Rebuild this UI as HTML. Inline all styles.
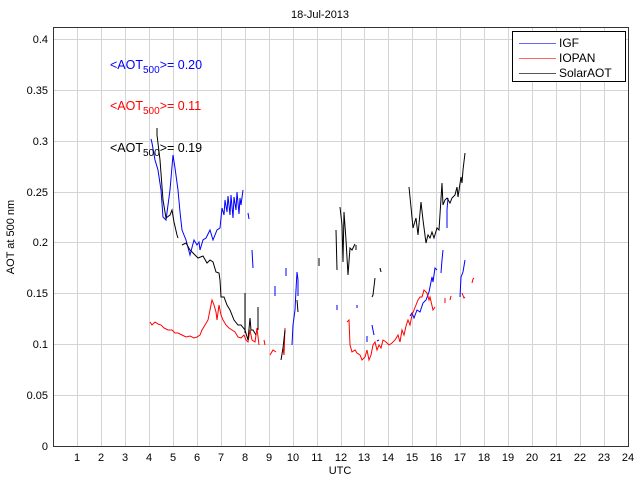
<!DOCTYPE html>
<html><head><style>body{margin:0;background:#fff}svg{display:block;font-family:"Liberation Sans",Arial,sans-serif}</style></head><body>
<svg width="640" height="480" viewBox="0 0 640 480" xmlns="http://www.w3.org/2000/svg">
<rect x="0" y="0" width="640" height="480" fill="#fff"/>
<g stroke="#d4d4d4" stroke-width="1">
<line x1="77.5" y1="27" x2="77.5" y2="446"/><line x1="101.5" y1="27" x2="101.5" y2="446"/><line x1="125.5" y1="27" x2="125.5" y2="446"/><line x1="149.5" y1="27" x2="149.5" y2="446"/><line x1="173.5" y1="27" x2="173.5" y2="446"/><line x1="197.5" y1="27" x2="197.5" y2="446"/><line x1="221.5" y1="27" x2="221.5" y2="446"/><line x1="245.5" y1="27" x2="245.5" y2="446"/><line x1="269.5" y1="27" x2="269.5" y2="446"/><line x1="293.5" y1="27" x2="293.5" y2="446"/><line x1="317.5" y1="27" x2="317.5" y2="446"/><line x1="341.5" y1="27" x2="341.5" y2="446"/><line x1="364.5" y1="27" x2="364.5" y2="446"/><line x1="388.5" y1="27" x2="388.5" y2="446"/><line x1="412.5" y1="27" x2="412.5" y2="446"/><line x1="436.5" y1="27" x2="436.5" y2="446"/><line x1="460.5" y1="27" x2="460.5" y2="446"/><line x1="484.5" y1="27" x2="484.5" y2="446"/><line x1="508.5" y1="27" x2="508.5" y2="446"/><line x1="532.5" y1="27" x2="532.5" y2="446"/><line x1="556.5" y1="27" x2="556.5" y2="446"/><line x1="580.5" y1="27" x2="580.5" y2="446"/><line x1="604.5" y1="27" x2="604.5" y2="446"/>
<line x1="53" y1="395.5" x2="628" y2="395.5"/><line x1="53" y1="344.5" x2="628" y2="344.5"/><line x1="53" y1="293.5" x2="628" y2="293.5"/><line x1="53" y1="242.5" x2="628" y2="242.5"/><line x1="53" y1="192.5" x2="628" y2="192.5"/><line x1="53" y1="141.5" x2="628" y2="141.5"/><line x1="53" y1="90.5" x2="628" y2="90.5"/><line x1="53" y1="39.5" x2="628" y2="39.5"/>
</g>
<rect x="53.5" y="27.5" width="575" height="419" fill="none" stroke="#333" stroke-width="1"/>
<g fill="none" stroke-width="1">
<g stroke="#0000ff">
<polyline points="151,139 152,143 155,160 158,170 161,190 163,217 166,220 168,205 170,190 173,155 175,168 178,190 180,212 182,230 186,240 190,255 194,240 197,245 199,242 200,250 203,240 206,238 210,230 213,240 217,230 220,228 222,208 224,215 225,200 227,212 228,196 230,215 231,195 233,218 234,197 236,210 237,192 239,214 240,198 241,205 243,190"/>
<polyline points="248,213 249,219"/><polyline points="252,250 253,268"/>
<polyline points="275,286 275,296"/><polyline points="286,268 286,276"/>
<polyline points="292,345 293,325 295,310 296,290 297,272 298,280 298,296"/>
<polyline points="337,305 337,310"/><polyline points="357,305 357,308"/>
<polyline points="367,336 367,342"/><polyline points="372,325 374,335"/>
<polyline points="377,341 379,340"/>
<polyline points="410,316 412,313 414,318 417,310 420,312 423,303 426,300 429,292 432,277 433,282 435,268 437,270"/>
<polyline points="441,273 442,260 443,250"/>
<polyline points="447,228 447,210 448,198"/>
<polyline points="460,297 461,277 463,272 465,260"/>
</g>
<g stroke="#ff0000">
<polyline points="150,322 152,325 155,322 158,324 161,325 164,328 168,330 172,330 175,333 178,333 182,335 186,337 190,336 194,338 197,337 200,335 202,330 205,325 208,320 210,310 212,300 214,305 216,312 217,320 219,305 221,315 223,320 226,325 229,328 232,330 235,332 238,337 241,338 244,335 246,340 248,342 250,330 252,340 255,342 257,328 259,345"/>
<polyline points="264,340 265,345"/><polyline points="270,355 273,350 276,352"/>
<polyline points="283,348 284,355 285,328"/>
<polyline points="347,322 349,320 350,345 352,352 355,350 357,353 360,355 362,360 365,357 367,350 369,360 371,355 373,345 375,342 377,350 379,345 381,348 383,340 386,342 389,345 392,343 395,340 398,335 400,342 402,330 404,335 406,326 408,320 410,325 412,315 414,310 416,305 418,300 420,297 422,297 424,290 427,293 429,300 430,297 433,310 435,307"/>
<polyline points="445,303 445,298"/><polyline points="450,300 451,296"/><polyline points="462,293 464,298 465,297"/>
<polyline points="472,283 473,279 474,278"/>
</g>
<g stroke="#000">
<polyline points="157,128 157,135 160,160 163,200 166,218 170,215 172,210 174,222 177,235 178,238"/>
<polyline points="182,245 186,243 190,250 195,255 198,258 203,256 207,263 210,260 213,262 216,272 219,273 220,280 221,297 224,297 227,305 230,310 234,320 238,325 241,325 245,330 248,340 250,318 251,330 253,330 256,335"/>
<polyline points="245,293 245,333"/><polyline points="258,307 258,330"/>
<polyline points="281,360 283,348 285,330"/><polyline points="297,300 298,312"/>
<polyline points="319,258 319,266"/>
<polyline points="336,230 337,270"/>
<polyline points="340,207 342,225 343,262 344,212 346,240 348,275 350,248 352,250 355,244"/>
<polyline points="356,245 356,250"/>
<polyline points="372,297 373,295 375,278"/><polyline points="380,268 381,272"/>
<polyline points="409,187 411,207 413,228 416,218 418,235 421,202 423,220 426,243 428,235 430,238 432,232 434,238 437,228 439,230 442,183 443,205 445,200 447,198 450,203 452,198 455,195 457,187 458,197 461,177 462,183 463,170 465,153"/>
</g>
</g>
<g font-size="11" fill="#000">
<text x="320" y="18" text-anchor="middle">18-Jul-2013</text>
<g text-anchor="end">
<text x="48" y="450">0</text><text x="48" y="399">0.05</text><text x="48" y="348">0.1</text><text x="48" y="297">0.15</text><text x="48" y="246">0.2</text><text x="48" y="196">0.25</text><text x="48" y="145">0.3</text><text x="48" y="94">0.35</text><text x="48" y="43">0.4</text>
</g>
<g text-anchor="middle">
<text x="77" y="461">1</text><text x="101" y="461">2</text><text x="125" y="461">3</text><text x="149" y="461">4</text><text x="173" y="461">5</text><text x="197" y="461">6</text><text x="221" y="461">7</text><text x="245" y="461">8</text><text x="269" y="461">9</text><text x="293" y="461">10</text><text x="317" y="461">11</text><text x="341" y="461">12</text><text x="364" y="461">13</text><text x="388" y="461">14</text><text x="412" y="461">15</text><text x="436" y="461">16</text><text x="460" y="461">17</text><text x="484" y="461">18</text><text x="508" y="461">19</text><text x="532" y="461">20</text><text x="556" y="461">21</text><text x="580" y="461">22</text><text x="604" y="461">23</text><text x="628" y="461">24</text>
<text x="340" y="474">UTC</text>
</g>
<text transform="translate(14,237) rotate(-90)" text-anchor="middle">AOT at 500 nm</text>
<g font-size="12.5">
<text x="110" y="69" fill="#0000ff">&lt;AOT<tspan font-size="10" dy="4">500</tspan><tspan dy="-4">&gt;= 0.20</tspan></text>
<text x="110" y="110" fill="#ff0000">&lt;AOT<tspan font-size="10" dy="4">500</tspan><tspan dy="-4">&gt;= 0.11</tspan></text>
<text x="110" y="152" fill="#000">&lt;AOT<tspan font-size="10" dy="4">500</tspan><tspan dy="-4">&gt;= 0.19</tspan></text>
</g>
</g>
<rect x="512.5" y="31.5" width="113" height="50" fill="#fff" stroke="#000"/>
<line x1="519" y1="43.5" x2="556" y2="43.5" stroke="#6666ff"/>
<line x1="519" y1="58.5" x2="556" y2="58.5" stroke="#ff6666"/>
<line x1="519" y1="73.5" x2="556" y2="73.5" stroke="#555"/>
<g font-size="12"><text x="559" y="47">IGF</text><text x="559" y="62">IOPAN</text><text x="559" y="77">SolarAOT</text></g>
</svg>
</body></html>
